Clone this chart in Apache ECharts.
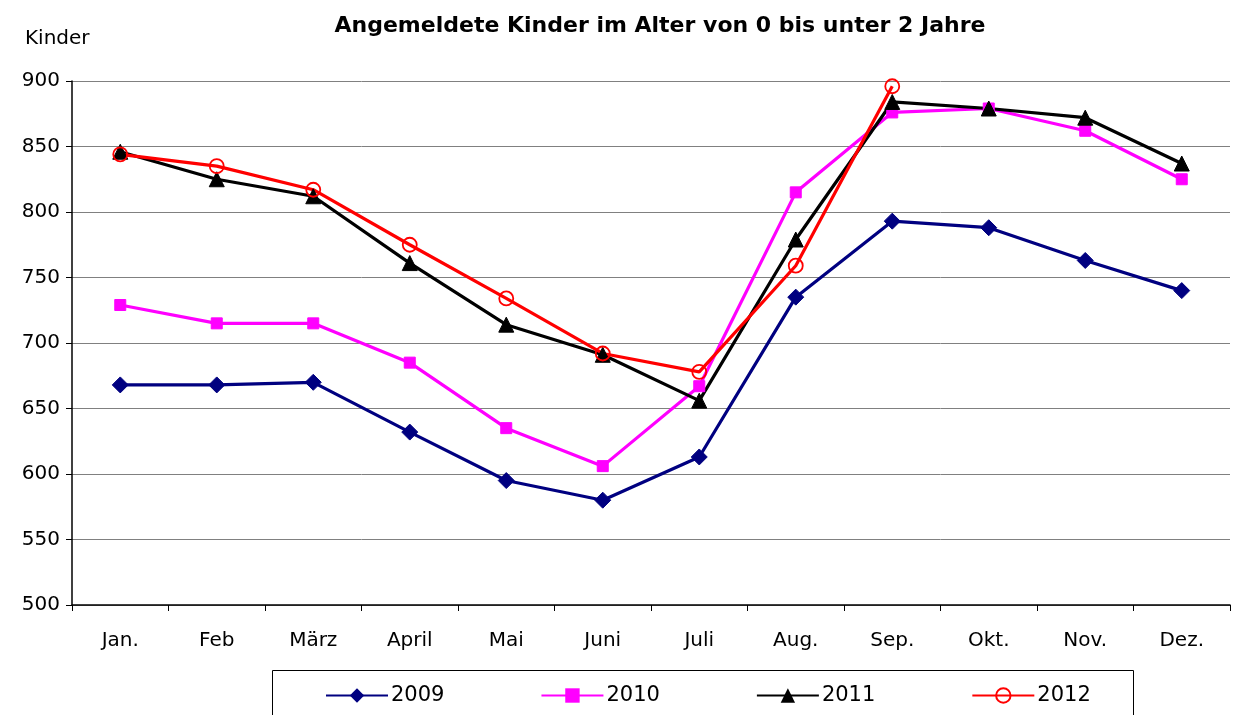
<!DOCTYPE html>
<html><head><meta charset="utf-8">
<script src="https://cdn.jsdelivr.net/npm/echarts@6/dist/echarts.min.js"></script>
<style>html,body{margin:0;padding:0;background:#fff}#c{width:1234px;height:715px}</style>
</head><body><div id="c"></div>
<script>
const months = ['Jan.','Feb','März','April','Mai','Juni','Juli','Aug.','Sep.','Okt.','Nov.','Dez.'];
const s2009 = [668,668,670,632,595,580,613,735,793,788,763,740];
const s2010 = [729,715,715,685,635,606,667,815,876,879,862,825];
const s2011 = [846,825,812,761,714,691,656,779,884,879,872,837];
const s2012 = [844,835,817,775,734,692,678,759,896,null,null,null];
const FONT = '"DejaVu Sans", Arial, sans-serif';
const chart = echarts.init(document.getElementById('c'));
function ser(name, data, color, symbol, size, extra){
  return Object.assign({name, type:'line', data, symbol, symbolSize:size,
    lineStyle:{color, width:3.2}, itemStyle:{color, borderColor:color},
    showAllSymbol:true, animation:false}, extra||{});
}
chart.setOption({
  animation:false,
  title:{text:'Angemeldete Kinder im Alter von 0 bis unter 2 Jahre', left:655, top:10, textAlign:'center',
    textStyle:{fontFamily:FONT, fontSize:22, fontWeight:'bold', color:'#000'}},
  graphic:[
    {type:'text', left:25, top:29, style:{text:'Kinder', font:'20px '+FONT, fill:'#000'}},
    {type:'rect', shape:{x:272.5, y:670.5, width:861, height:60}, style:{fill:'none', stroke:'#000', lineWidth:1}}
  ],
  grid:{left:72, right:4, top:81, bottom:110, containLabel:false},
  legend:{left:320, top:680, itemWidth:62, itemHeight:18, itemGap:96,
    textStyle:{fontFamily:FONT, fontSize:21, color:'#000', padding:[0,0,0,-2]},
    data:['2009','2010','2011','2012']},
  xAxis:{type:'category', data:months, boundaryGap:true,
    axisLine:{lineStyle:{color:'#000', width:1.5}},
    axisTick:{show:true, inside:false, length:6, lineStyle:{color:'#000'}},
    axisLabel:{fontFamily:FONT, fontSize:20, color:'#000', margin:26},
    splitLine:{show:false}},
  yAxis:{type:'value', min:500, max:900, interval:50,
    axisLine:{show:true, lineStyle:{color:'#000', width:1.5}},
    axisTick:{show:true, length:6, lineStyle:{color:'#000'}},
    axisLabel:{fontFamily:FONT, fontSize:20, color:'#000', margin:12},
    splitLine:{lineStyle:{color:'#808080', width:1}}},
  series:[
    ser('2009', s2009, '#000080', 'diamond', 16),
    ser('2010', s2010, '#ff00ff', 'rect', 11),
    ser('2011', s2011, '#000000', 'triangle', 15),
    ser('2012', s2012, '#ff0000', 'circle', 14, {itemStyle:{color:'rgba(255,255,255,0)', borderColor:'#ff0000', borderWidth:1.8}})
  ]
});
</script></body></html>
